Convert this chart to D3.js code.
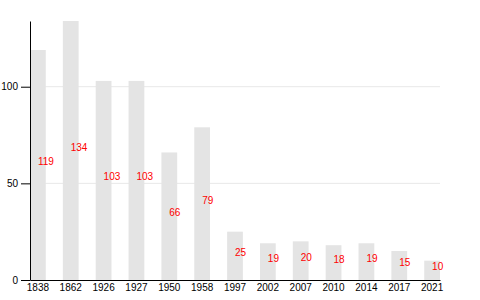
<!DOCTYPE html>
<html>
<head>
<meta charset="utf-8">
<script src="https://cdn.jsdelivr.net/npm/d3@7"></script>
<style>
  body { margin: 0; background: #fff; }
  svg text { font-family: "Liberation Sans", Arial, sans-serif; }
</style>
</head>
<body>
<div id="chart"></div>
<script>
// Data
var years = ["1838", "1862", "1926", "1927", "1950", "1958", "1997", "2002", "2007", "2010", "2014", "2017", "2021"];
var values = [119, 134, 103, 103, 66, 79, 25, 19, 20, 18, 19, 15, 10];
var yTicks = [0, 50, 100];

// Set the dimensions and margins of the graph
var margin = {top: 21, right: 40, bottom: 20, left: 30},
    width = 480 - margin.left - margin.right,
    height = 300 - margin.top - margin.bottom;

var svg = d3.select("#chart")
    .append("svg")
    .attr("width", width + margin.left + margin.right)
    .attr("height", height + margin.top + margin.bottom)
    .append("g")
    .attr("transform", "translate(" + margin.left + "," + margin.top + ")");

var data = years.map((y, i) => ({year: y, value: values[i]}));

// Scales
var x = d3.scaleBand()
    .domain(years)
    .range([0, width])
    .paddingInner(0.52)
    .paddingOuter(0);

var y = d3.scaleLinear()
    .domain([0, d3.max(values)])
    .range([height, 0]);

// Gridlines
svg.selectAll(".grid")
    .data(yTicks.filter(d => d > 0))
    .enter().append("line")
    .attr("class", "grid")
    .attr("x1", 0)
    .attr("x2", width)
    .attr("y1", d => y(d))
    .attr("y2", d => y(d))
    .style("stroke", "#e8e8e8")
    .style("stroke-width", 1);

// Bars
svg.selectAll(".bar")
    .data(data)
    .enter().append("rect")
    .attr("class", "bar")
    .attr("x", d => x(d.year))
    .attr("y", d => y(d.value))
    .attr("width", x.bandwidth())
    .attr("height", d => height - y(d.value))
    .style("fill", "#e4e4e4");

// Value labels
svg.selectAll(".label")
    .data(data)
    .enter().append("text")
    .attr("class", "label")
    .attr("x", d => x(d.year) + x.bandwidth() / 2)
    .attr("y", d => (y(d.value) + height) / 2)
    .style("fill", "red")
    .style("font-size", "10px")
    .text(d => d.value);

// Axes
var xAxis = svg.append("g")
    .attr("transform", `translate(0,${height})`)
    .call(d3.axisBottom(x).tickSize(0).tickPadding(4));
xAxis.selectAll("text").style("font-size", "10px").style("fill", "#000");
xAxis.select(".domain").style("stroke", "#000");

var yAxis = svg.append("g")
    .call(d3.axisLeft(y).tickValues(yTicks).tickSize(9).tickSizeOuter(0).tickPadding(3));
yAxis.selectAll("text").style("font-size", "10px").style("fill", "#000");
yAxis.select(".domain").style("stroke", "#000");
</script>
</body>
</html>
